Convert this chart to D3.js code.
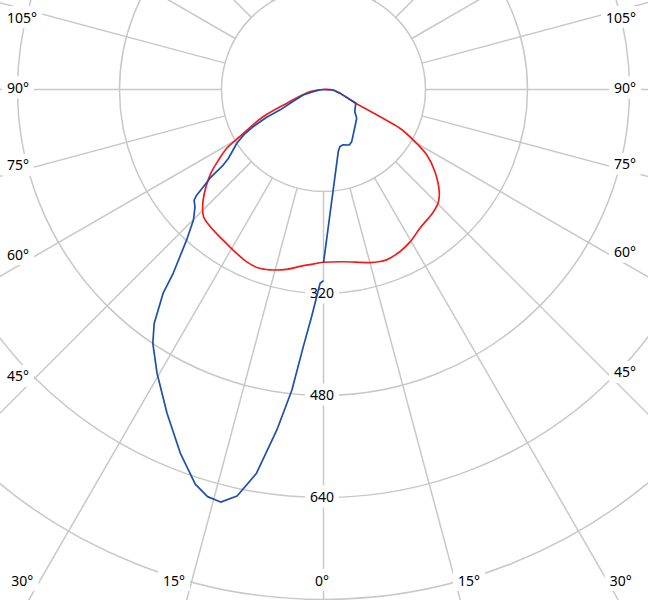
<!DOCTYPE html>
<html>
<head>
<meta charset="utf-8">
<script src="https://cdn.jsdelivr.net/npm/d3@7"></script>
<style>
  html, body { margin: 0; padding: 0; background: #fff; }
  svg { display: block; }
  text { font-family: "Noto Sans", sans-serif; font-size: 14px; fill: #000; }
</style>
</head>
<body>
<div id="chart"></div>
<script>
// Rings and labels
const ringValues = [160, 320, 480, 640, 800, 960];
const ringLabels = [320, 480, 640];
const spokeAngles = [0, 15, 30, 45, 60, 75, 90, 105, 120, 135, 150, 165, 180,
    195, 210, 225, 240, 255, 270, 285, 300, 315, 330, 345];
const angleLabels = [0, 15, 30, 45, 60, 75, 90, 105];

// Red curve (C0 / C180), gamma angle from nadir and intensity
const redLeftAngles = [0, 4, 7.6, 11.6, 16.5, 20, 24, 27.9, 33.7, 39.6, 43.4, 45.9, 47.5, 50.6, 53.4, 55.9, 58.8, 60.4, 65.7, 69.4, 80.7, 90];
const redLeftValues = [271, 275, 280, 288, 295, 298, 296, 291, 284, 279, 274, 264, 256, 238, 220, 200, 177, 154, 104, 62, 21, 0];
const redRightAngles = [0, 6.6, 15, 18.2, 20.3, 25.3, 29.6, 34.8, 41.9, 45.7, 48.6, 53.6, 57.6, 60.6, 63.1, 64.3, 67, 70, 77, 87, 90];
const redRightValues = [271, 272, 281, 284, 285, 281, 275, 265, 258, 252, 242, 217, 192, 162, 135, 98, 55, 42, 27, 15, 0];

// Blue curve (C90 / C270)
const blueLeftAngles = [0, 1, 3, 4.5, 6, 7.8, 9.9, 12, 14, 15.9, 18, 21.5, 25.8, 30.4, 33.9, 35.9, 38.2, 39.3, 42.3, 44.9, 47.6, 49.5, 50.2, 51, 52, 53, 54.1, 58.2, 60.5, 62.1, 64, 64.8, 68.4, 74.8, 77.7, 82, 90];
const blueLeftValues = [300, 304, 357, 405, 474, 539, 611, 652, 667, 664, 651, 613, 564, 516, 480, 453, 407, 372, 319, 289, 273, 267, 259, 242, 226, 197, 184, 160, 143, 125, 100, 75, 53, 33, 18, 6, 0];
const blueRightAngles = [0, 13.4, 16.1, 19.6, 24.9, 28.4, 33.2, 41.6, 49, 54.8, 67, 70, 77, 87, 90];
const blueRightValues = [272, 100, 93, 92, 96, 93, 85, 75, 69, 60, 55, 42, 27, 15, 0];

const width = 648, height = 600;
const cx = 323.5, cy = 89.5;
const gridColor = '#c8c8c8';

const r = d3.scaleLinear().domain([0, 160]).range([0, 102]);
const toRad = d => d * Math.PI / 180;
// gamma from nadir, side -1 = left half, +1 = right half
const radialAngle = (a, side) => Math.PI - side * toRad(a);

const svg = d3.select('#chart').append('svg')
    .attr('width', width)
    .attr('height', height);

const grid = svg.append('g').attr('transform', `translate(${cx},${cy})`);

// rings
grid.append('g').selectAll('circle')
    .data(ringValues)
    .join('circle')
    .attr('r', d => r(d))
    .attr('fill', 'none')
    .attr('stroke', gridColor)
    .attr('stroke-width', 1.5);

// spokes start at the first ring
grid.append('g').selectAll('line')
    .data(spokeAngles)
    .join('line')
    .attr('x1', d => r(ringValues[0]) * Math.sin(toRad(d)))
    .attr('y1', d => r(ringValues[0]) * Math.cos(toRad(d)))
    .attr('x2', d => r(1100) * Math.sin(toRad(d)))
    .attr('y2', d => r(1100) * Math.cos(toRad(d)))
    .attr('stroke', gridColor)
    .attr('stroke-width', 1.5);

const labels = svg.append('g');

function addLabel(str, anchor) {
    const grp = labels.append('g');
    const rect = grp.append('rect').attr('fill', '#fff');
    const t = grp.append('text')
        .attr('text-anchor', anchor)
        .attr('dominant-baseline', 'central')
        .text(str);
    return { rect, t, w: t.node().getComputedTextLength() };
}

function place(lbl, x, y) {
    lbl.t.attr('x', x).attr('y', y);
    const bb = lbl.t.node().getBBox();
    lbl.rect.attr('x', bb.x - 5).attr('y', y - 11)
        .attr('width', bb.width + 10).attr('height', 22);
}

// intensity labels on the nadir axis
ringLabels.forEach(v => {
    const lbl = addLabel(v, 'middle');
    place(lbl, cx - 1.5, cy + r(v) - 1);
});

// angle labels along the border
const bottomY = 580;
angleLabels.forEach(a => {
    [-1, 1].forEach(side => {
        if (a === 0 && side === 1) return;
        const s = Math.sin(toRad(a)), c = Math.cos(toRad(a));
        if (a === 0) {
            const lbl = addLabel('0°', 'middle');
            place(lbl, cx - 1.5, bottomY);
            return;
        }
        const lbl = addLabel(a + '°', side < 0 ? 'start' : 'end');
        const xEdge = side < 0 ? 7 + lbl.w + 6 : 636 - lbl.w - 6;
        const yEdge = cy + c * Math.abs(xEdge - cx) / s;
        if (yEdge <= bottomY) {
            place(lbl, side < 0 ? 7 : 636, Math.max(17, yEdge - 2));
        } else {
            const xr = cx + side * s * (bottomY - cy) / c;
            lbl.t.attr('text-anchor', side < 0 ? 'end' : 'start');
            place(lbl, side < 0 ? xr - 7 : xr + 3, bottomY);
        }
    });
});

// curves, drawn above the labels
const curves = svg.append('g').attr('transform', `translate(${cx},${cy})`);

const pts = (angles, values, side) => angles.map((a, i) => ({ angle: radialAngle(a, side), value: values[i] }));

const redPts = pts(redLeftAngles, redLeftValues, -1).reverse()
    .concat(pts(redRightAngles, redRightValues, 1).slice(1));

const smoothLine = d3.lineRadial()
    .angle(d => d.angle)
    .radius(d => r(d.value))
    .curve(d3.curveCatmullRom.alpha(0.5));

const straightLine = d3.lineRadial()
    .angle(d => d.angle)
    .radius(d => r(d.value));

curves.append('path')
    .attr('d', smoothLine(redPts))
    .attr('fill', 'none')
    .attr('stroke', '#f01c1c')
    .attr('stroke-width', 1.7);

[pts(blueLeftAngles, blueLeftValues, -1), pts(blueRightAngles, blueRightValues, 1)].forEach(p => {
    curves.append('path')
        .attr('d', straightLine(p))
        .attr('fill', 'none')
        .attr('stroke', '#1d4fae')
        .attr('stroke-width', 1.7)
        .attr('stroke-linejoin', 'round');
});
</script>
</body>
</html>
